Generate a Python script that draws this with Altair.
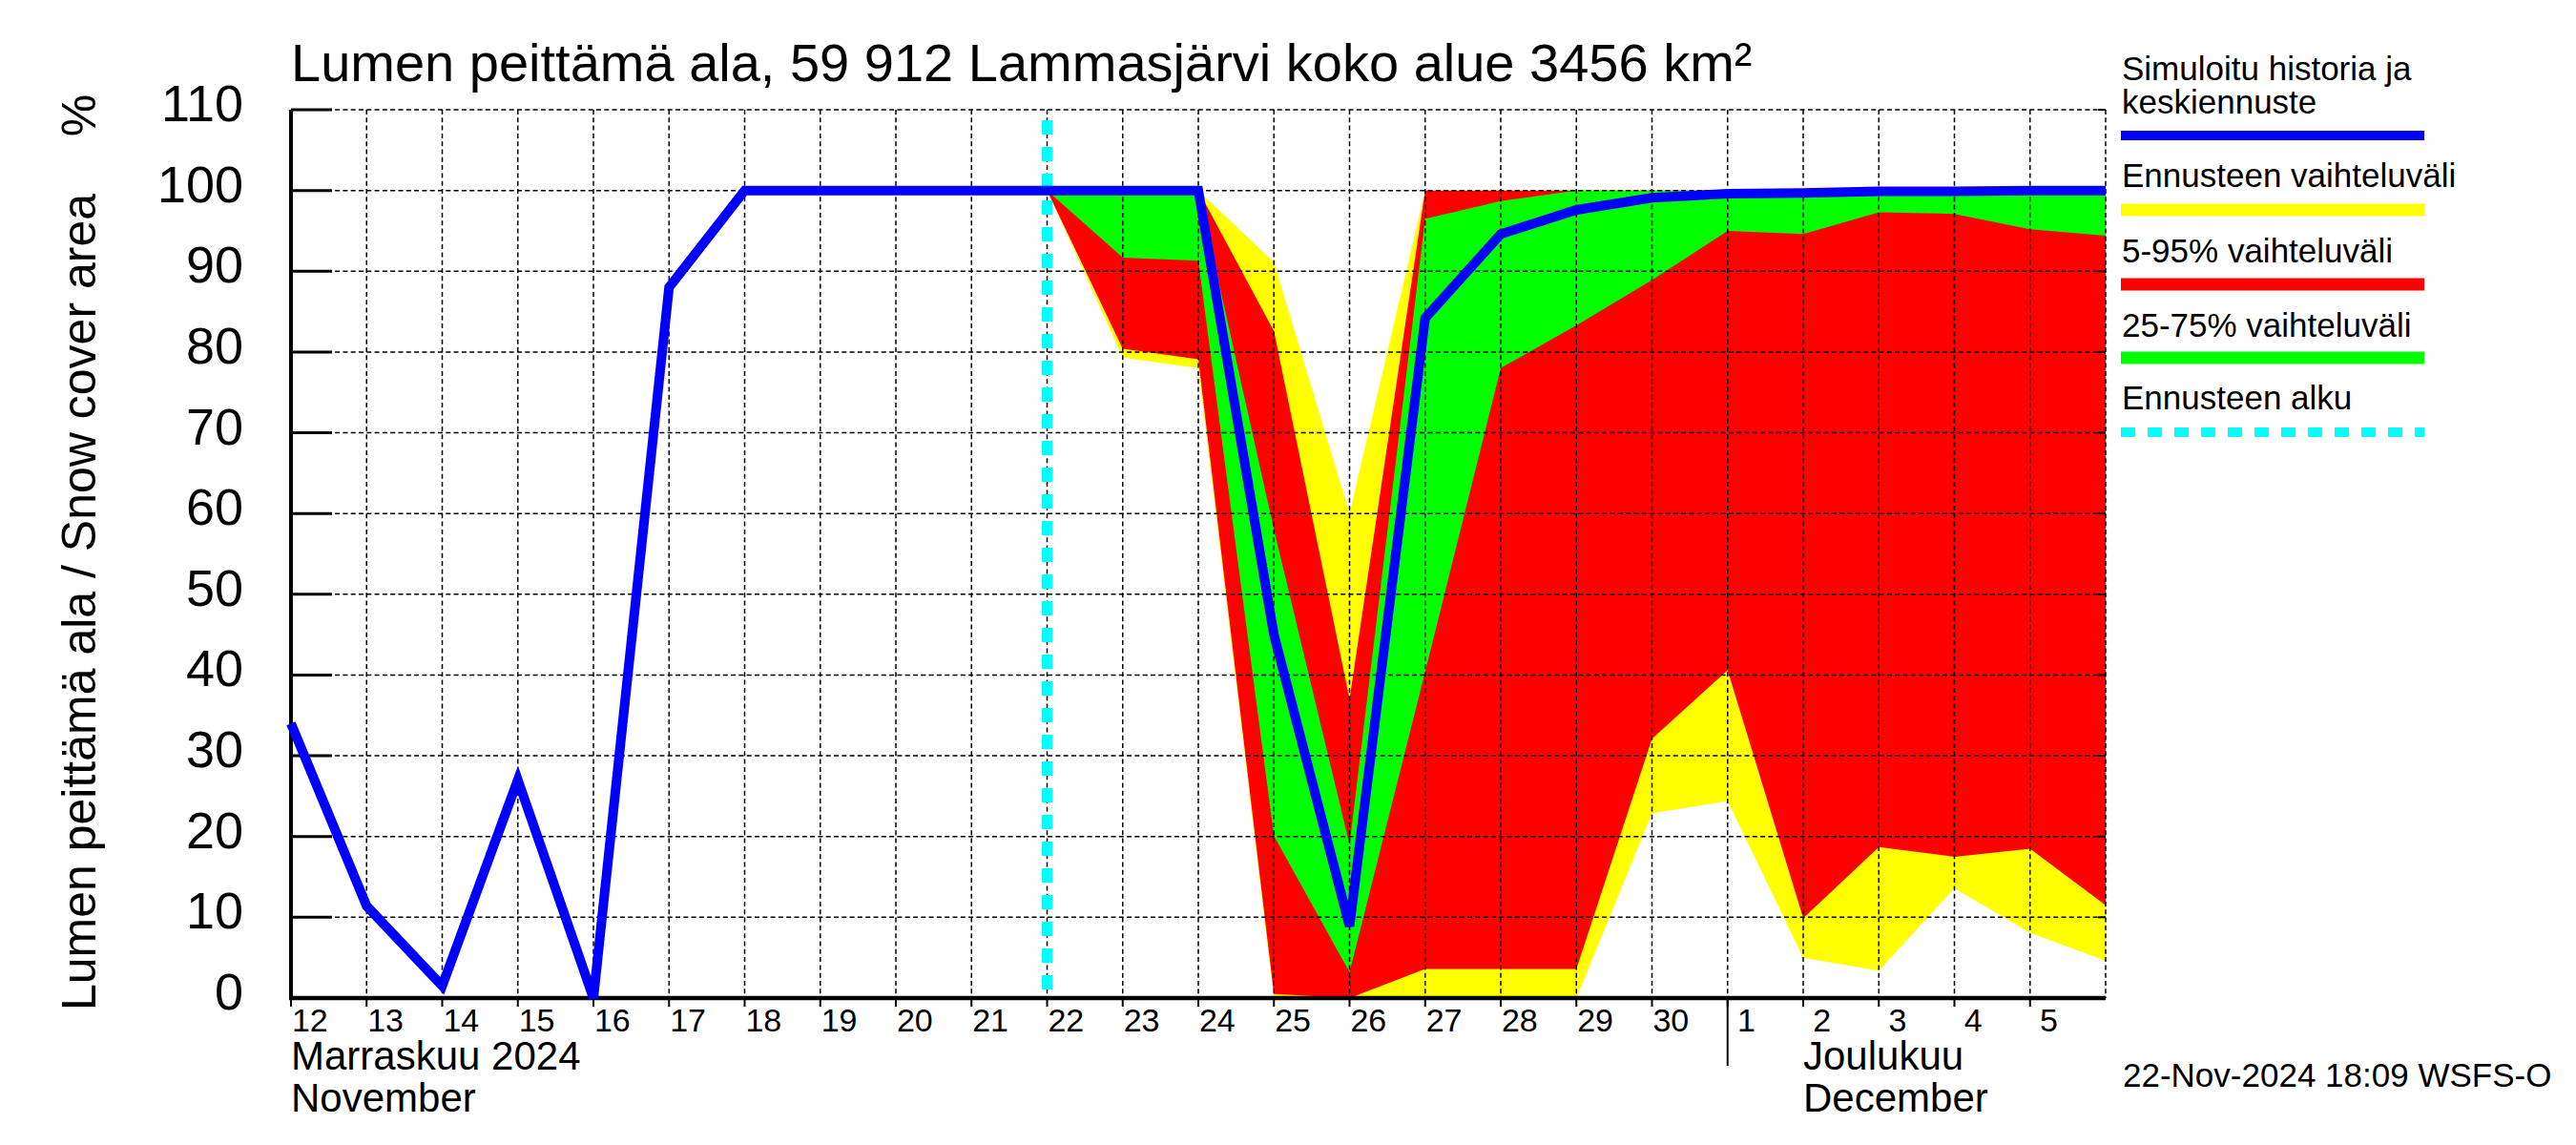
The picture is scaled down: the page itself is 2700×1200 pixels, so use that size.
import altair as alt
import pandas as pd

# ---------------- data ----------------
dates = ["2024-11-12", "2024-11-13", "2024-11-14", "2024-11-15", "2024-11-16",
         "2024-11-17", "2024-11-18", "2024-11-19", "2024-11-20", "2024-11-21",
         "2024-11-22", "2024-11-23", "2024-11-24", "2024-11-25", "2024-11-26",
         "2024-11-27", "2024-11-28", "2024-11-29", "2024-11-30", "2024-12-01",
         "2024-12-02", "2024-12-03", "2024-12-04", "2024-12-05", "2024-12-06"]

# simulated history + median forecast (%)
median = [34, 11.4, 1.5, 27, 0, 88, 100, 100, 100, 100,
          100, 100, 100, 45, 8.9, 84.2, 94.6, 97.6, 99.1, 99.6,
          99.7, 99.9, 99.9, 100, 100]

forecast_start = "2024-11-22"
# forecast bands from 2024-11-22 to 2024-12-06
band_min = [100, 79.3, 78.0, 0, 0, 0, 0, 0, 22.9, 24.4, 5.0, 3.4, 13.6, 8.1, 4.6]
band_max = [100, 100, 100, 91.1, 60, 100, 100, 100, 100, 100, 100, 100, 100, 100, 100]
p05 = [100, 80.4, 79.1, 0.5, 0, 3.6, 3.6, 3.6, 32.1, 40.6, 9.9, 18.7, 17.5, 18.5, 11.5]
p95 = [100, 100, 100, 82.6, 37, 100, 100, 100, 100, 100, 100, 100, 100, 100, 100]
p25 = [100, 91.7, 91.3, 20.1, 3.2, 40.4, 78.0, 83.3, 88.9, 95.0, 94.6, 97.3, 97.1, 95.2, 94.4]
p75 = [100, 100, 100, 58, 19, 96.5, 98.7, 100, 100, 100, 100, 100, 100, 100, 100]

y_ticks = [0, 10, 20, 30, 40, 50, 60, 70, 80, 90, 100, 110]

title_text = "Lumen peittämä ala, 59 912 Lammasjärvi koko alue 3456 km²"
ytitle_text = "Lumen peittämä ala / Snow cover area"
month1 = ["Marraskuu 2024", "November"]
month2 = ["Joulukuu", "December"]
stamp = "22-Nov-2024 18:09 WSFS-O"
legend_labels = [["Simuloitu historia ja", "keskiennuste"], ["Ennusteen vaihteluväli"],
                 ["5-95% vaihteluväli"], ["25-75% vaihteluväli"], ["Ennusteen alku"]]

# ---------------- frames ----------------
dt = pd.to_datetime(pd.Series(dates))
start = dt.iloc[0]
day = (dt - start).dt.days.tolist()
fs_idx = dates.index(forecast_start)

df_line = pd.DataFrame({"d": day, "v": median})
df_band = pd.DataFrame({"d": day[fs_idx:], "ymin": band_min, "ymax": band_max,
                        "p05": p05, "p95": p95, "p25": p25, "p75": p75})
tick_days = day[:-1]
df_xt = pd.DataFrame({"d": tick_days,
                      "dl": [d + 0.25 for d in tick_days],
                      "lab": [str(x.day) for x in dt.iloc[:-1]]})
df_vgrid = pd.DataFrame({"d": day[1:]})
df_yt = pd.DataFrame({"v": y_ticks, "lab": [str(v) for v in y_ticks]})
df_hgrid = pd.DataFrame({"v": y_ticks[1:]})
dec1 = dates.index("2024-12-01")
dec2 = dates.index("2024-12-02")
df_dec1 = pd.DataFrame({"d": [day[dec1]]})
df_fs = pd.DataFrame({"d": [day[fs_idx]]})

W, H = 1902, 931
FONT = "Liberation Sans"

xs = alt.Scale(domain=[0, day[-1]], nice=False, zero=False)
ys = alt.Scale(domain=[0, 110], nice=False, zero=False)


def X(f):
    return alt.X(f, type="quantitative", scale=xs, axis=None)


def Y(f):
    return alt.Y(f, type="quantitative", scale=ys, axis=None)


def txt(s, x, y, size, align="left", angle=None, color="black"):
    kw = dict(align=align, baseline="alphabetic", fontSize=size, font=FONT, color=color)
    if angle is not None:
        kw["angle"] = angle
    return alt.Chart(pd.DataFrame({"t": [s]})).mark_text(**kw).encode(
        x=alt.value(x), y=alt.value(y), text="t:N")


layers = []
# bands
for lo, hi, col in [("ymin", "ymax", "#ffff00"), ("p05", "p95", "#ff0000"), ("p25", "p75", "#00ff00")]:
    layers.append(alt.Chart(df_band).mark_area(color=col, opacity=1, interpolate="linear").encode(
        x=X("d"), y=Y(lo), y2=alt.Y2(hi)))

# grid
layers.append(alt.Chart(df_hgrid).mark_rule(color="black", strokeWidth=1.5, strokeDash=[5, 3.3]).encode(y=Y("v")))
layers.append(alt.Chart(df_vgrid).mark_rule(color="black", strokeWidth=1.5, strokeDash=[5, 3.3]).encode(x=X("d")))

# axis lines
layers.append(alt.Chart(df_yt).mark_rule(color="black", strokeWidth=3).encode(
    y=Y("v"), x=alt.value(0), x2=alt.value(43)))
layers.append(alt.Chart(df_yt).mark_rule(color="black", strokeWidth=2).encode(
    y=Y("v"), x=alt.value(W - 8), x2=alt.value(W)))
layers.append(alt.Chart(df_xt).mark_rule(color="black", strokeWidth=2).encode(
    x=X("d"), y=alt.value(H), y2=alt.value(H + 9)))
layers.append(alt.Chart(df_dec1).mark_rule(color="black", strokeWidth=2).encode(
    x=X("d"), y=alt.value(H), y2=alt.value(H + 71)))
layers.append(alt.Chart(df_yt.head(1)).mark_rule(color="black", strokeWidth=4.5).encode(
    y=alt.value(H), x=alt.value(-2), x2=alt.value(W)))
layers.append(alt.Chart(df_yt.head(1)).mark_rule(color="black", strokeWidth=4).encode(
    x=alt.value(0), y=alt.value(0), y2=alt.value(H + 2)))

# tick labels
layers.append(alt.Chart(df_yt).mark_text(align="right", baseline="alphabetic", fontSize=54, font=FONT, dy=12).encode(
    y=Y("v"), x=alt.value(-50), text="lab:N"))
layers.append(alt.Chart(df_xt).mark_text(align="center", baseline="alphabetic", fontSize=34, font=FONT).encode(
    x=X("dl"), y=alt.value(H + 35), text="lab:N"))

# forecast start line
layers.append(alt.Chart(df_fs).mark_rule(color="#00ffff", strokeWidth=11, strokeDash=[15, 13]).encode(
    x=X("d"), y=alt.value(11), y2=alt.value(H)))

# median line
layers.append(alt.Chart(df_line).mark_line(color="#0000ff", strokeWidth=10).encode(x=X("d"), y=Y("v")))

# texts
layers.append(txt(title_text, 0, -30, 56))
layers.append(txt(ytitle_text, -205, 516, 50, align="center", angle=270))
layers.append(txt("%", -205, 6, 50, align="center", angle=270))
layers.append(txt(month1[0], 0, 1006, 42))
layers.append(txt(month1[1], 0, 1050, 42))
x_dec2 = W * day[dec2] / day[-1]
layers.append(txt(month2[0], x_dec2, 1006, 42))
layers.append(txt(month2[1], x_dec2, 1050, 42))
layers.append(txt(stamp, 1920, 1024, 35))

# legend
LX0, LX1 = 1918, 2236
leg_styles = [("#0000ff", 10, None), ("#ffff00", 13, None), ("#ff0000", 13, None),
              ("#00ff00", 13, None), ("#00ffff", 10, [15, 13])]
leg_text_y = [[-31, 4], [81], [160], [238], [314]]
leg_line_y = [27, 105, 183, 260, 338]
for labels, ty, ly, (col, sw, dash) in zip(legend_labels, leg_text_y, leg_line_y, leg_styles):
    for s, yy in zip(labels, ty):
        layers.append(txt(s, LX0 + 1, yy, 35))
    kw = dict(color=col, strokeWidth=sw)
    if dash:
        kw["strokeDash"] = dash
    layers.append(alt.Chart(df_yt.head(1)).mark_rule(**kw).encode(
        x=alt.value(LX0), x2=alt.value(LX1), y=alt.value(ly)))

chart = alt.layer(*layers).properties(
    width=W, height=H,
    autosize=alt.AutoSizeParams(type="none"),
    padding={"left": 297, "top": 107, "right": 485, "bottom": 150},
    background="white",
).configure_view(stroke=None)

chart.save("out.html", embed_options={"renderer": "svg", "actions": False})
